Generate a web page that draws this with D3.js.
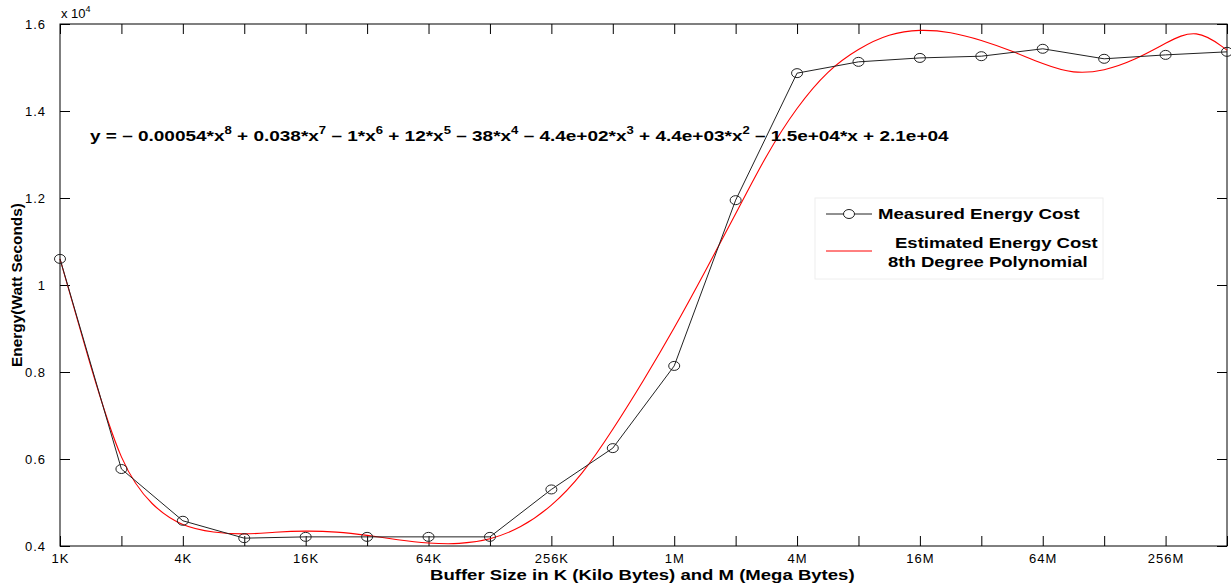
<!DOCTYPE html>
<html>
<head>
<meta charset="utf-8">
<script src="https://cdn.jsdelivr.net/npm/d3@7"></script>
<style>
  body { margin: 0; background: #fff; }
  svg { font-family: "Liberation Sans", Arial, sans-serif; }
  .tick text { font-size: 13px; fill: #000; letter-spacing: 1px; }
</style>
</head>
<body>
<div id="chart"></div>
<script>
// buffer sizes, one measurement each (energy in units of 10^4 watt seconds)
const sizes = ["1K", "2K", "4K", "8K", "16K", "32K", "64K", "128K", "256K", "512K",
  "1M", "2M", "4M", "8M", "16M", "32M", "64M", "128M", "256M", "512M"];
const tickLabels = ["1K", "4K", "16K", "64K", "256K", "1M", "4M", "16M", "64M", "256M"];
const measured = [1.060, 0.577, 0.458, 0.418, 0.421, 0.421, 0.421, 0.421, 0.530, 0.625,
  0.814, 1.195, 1.487, 1.513, 1.522, 1.526, 1.543, 1.520, 1.529, 1.536];
// polynomial fit at every half step of the size index
const fitted = [1.060, 0.811, 0.582, 0.490, 0.444, 0.431, 0.426, 0.432, 0.435, 0.433,
  0.425, 0.414, 0.406, 0.404, 0.414, 0.441, 0.490, 0.563, 0.667, 0.780,
  0.900, 1.030, 1.163, 1.300, 1.410, 1.494, 1.544, 1.578, 1.588, 1.582,
  1.563, 1.538, 1.508, 1.485, 1.492, 1.517, 1.556, 1.592, 1.540];
const yTicks = [0.4, 0.6, 0.8, 1, 1.2, 1.4, 1.6];

const width = 1231, height = 585;
const margin = { top: 24, right: 4, bottom: 39, left: 60 };

const svg = d3.select("#chart").append("svg")
  .attr("width", width)
  .attr("height", height);

// matlab's export draws its bold text wide; stretch a text to the width it has there
function stretchText(sel, x0, y0, target, rotate = 0) {
  const w = sel.node().getComputedTextLength();
  sel.attr("transform", `translate(${x0},${y0}) rotate(${rotate}) scale(${(target / w).toFixed(3)},1)`);
  return sel;
}

const x = d3.scaleLinear()
  .domain([0, sizes.length - 1])
  .range([margin.left, width - margin.right]);

const y = d3.scaleLinear()
  .domain([0.4, 1.6])
  .range([height - margin.bottom, margin.top]);

// frame
svg.append("rect")
  .attr("x", x(0)).attr("y", y(1.6))
  .attr("width", x(sizes.length - 1) - x(0))
  .attr("height", y(0.4) - y(1.6))
  .attr("fill", "none").attr("stroke", "#000");

// axes, ticks pointing inwards like matlab
const idx = d3.range(sizes.length);
const xAxis = d3.axisBottom(x).tickValues(idx).tickSizeInner(-10).tickSizeOuter(0)
  .tickPadding(14)
  .tickFormat(i => tickLabels.includes(sizes[i]) ? sizes[i] : "");
const gx = svg.append("g").attr("transform", `translate(0,${y(0.4)})`).call(xAxis);
gx.selectAll("text").attr("dy", "0.2em");

svg.append("g").attr("transform", `translate(0,${y(1.6)})`)
  .call(d3.axisTop(x).tickValues(idx).tickSizeInner(-10).tickSizeOuter(0).tickFormat(""));

svg.append("g").attr("transform", `translate(${x(0)},0)`)
  .call(d3.axisLeft(y).tickValues(yTicks).tickSizeInner(-10).tickSizeOuter(0)
    .tickPadding(14).tickFormat(d => d === 1 ? "1" : d3.format(".1f")(d)));

svg.append("g").attr("transform", `translate(${x(sizes.length - 1)},0)`)
  .call(d3.axisRight(y).tickValues(yTicks).tickSizeInner(-10).tickSizeOuter(0).tickFormat(""));

svg.selectAll(".domain").remove();
svg.selectAll(".tick line").attr("stroke", "#000");

// exponent note
const expo = svg.append("text")
  .attr("x", 61).attr("y", 18)
  .attr("font-size", 13);
expo.append("tspan").text("x 10");
expo.append("tspan").attr("font-size", 9).attr("dy", -6).text("4");

// fitted curve
const fitLine = d3.line()
  .x((d, i) => x(i / 2))
  .y(d => y(d))
  .curve(d3.curveBasis);
svg.append("path")
  .datum(fitted)
  .attr("d", fitLine)
  .attr("fill", "none")
  .attr("stroke", "#ff0000")
  .attr("stroke-width", 1.1);

// measured data
const dataLine = d3.line()
  .x((d, i) => x(i))
  .y(d => y(d));
svg.append("path")
  .datum(measured)
  .attr("d", dataLine)
  .attr("fill", "none")
  .attr("stroke", "#222")
  .attr("stroke-width", 1);

svg.append("g").selectAll("ellipse")
  .data(measured)
  .join("ellipse")
  .attr("cx", (d, i) => x(i))
  .attr("cy", d => y(d))
  .attr("rx", 5.5).attr("ry", 4.5)
  .attr("fill", "none")
  .attr("stroke", "#222")
  .attr("stroke-width", 1);

// fitted polynomial equation
const eq = svg.append("text")
  .attr("font-size", 14.5)
  .attr("font-weight", "bold");
const parts = [
  ["y = \u2013 0.00054*x", "8"], [" + 0.038*x", "7"], [" \u2013 1*x", "6"], [" + 12*x", "5"],
  [" \u2013 38*x", "4"], [" \u2013 4.4e+02*x", "3"], [" + 4.4e+03*x", "2"],
  [" \u2013 1.5e+04*x + 2.1e+04", null]
];
let lift = 0;
parts.forEach(([t, sup]) => {
  eq.append("tspan").attr("dy", lift).text(t);
  lift = 0;
  if (sup) {
    eq.append("tspan").attr("font-size", 10).attr("dy", -7).text(sup);
    lift = 7;
  }
});
stretchText(eq, 90, 141, 860);

// legend
const lg = svg.append("g").attr("font-size", 14.5).attr("font-weight", "bold");
lg.append("rect")
  .attr("x", 815).attr("y", 198).attr("width", 288).attr("height", 81)
  .attr("fill", "#fff").attr("stroke", "#eee");
lg.append("line").attr("x1", 826).attr("x2", 872).attr("y1", 214).attr("y2", 214)
  .attr("stroke", "#222");
lg.append("ellipse").attr("cx", 849).attr("cy", 214).attr("rx", 5.5).attr("ry", 4.5)
  .attr("fill", "#fff").attr("stroke", "#222");
stretchText(lg.append("text").text("Measured Energy Cost"), 878, 219, 202);
lg.append("line").attr("x1", 826).attr("x2", 872).attr("y1", 251).attr("y2", 251)
  .attr("stroke", "#ff0000");
stretchText(lg.append("text").text("Estimated Energy Cost"), 895, 248, 203);
stretchText(lg.append("text").text("8th Degree Polynomial"), 888, 267, 200);

// axis titles
stretchText(svg.append("text")
  .attr("font-size", 15).attr("font-weight", "bold")
  .text("Buffer Size in K (Kilo Bytes) and M (Mega Bytes)"), 430, 580, 425);

stretchText(svg.append("text")
  .attr("font-size", 14.5).attr("font-weight", "bold")
  .text("Energy(Watt Seconds)"), 22, 367, 164, -90);
</script>
</body>
</html>
